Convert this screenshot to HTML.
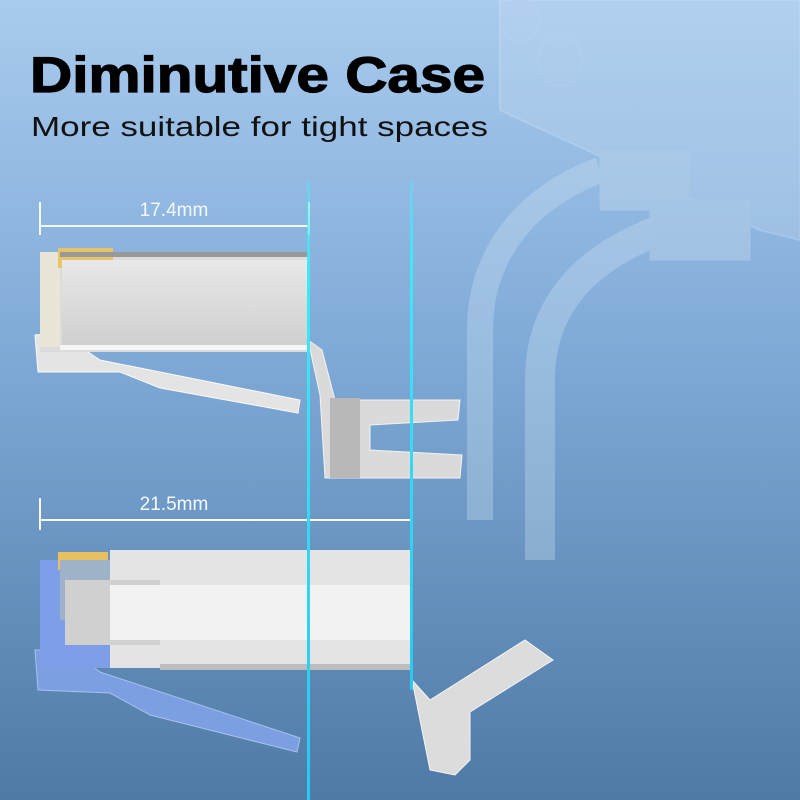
<!DOCTYPE html>
<html><head><style>
body{margin:0}
svg{display:block}
</style></head><body>
<svg width="800" height="800" viewBox="0 0 800 800" xmlns="http://www.w3.org/2000/svg">
<defs>
<linearGradient id="bg" x1="0" y1="0" x2="0" y2="1">
<stop offset="0" stop-color="#a9cbee"/>
<stop offset="0.45" stop-color="#7ea9d6"/>
<stop offset="1" stop-color="#4f7aa6"/>
</linearGradient>
<linearGradient id="cy" x1="0" y1="0" x2="0" y2="1">
<stop offset="0" stop-color="#3ff0ff" stop-opacity="0.3"/>
<stop offset="0.15" stop-color="#40e8f8"/>
<stop offset="1" stop-color="#28c8f0"/>
</linearGradient>
<linearGradient id="met" x1="0" y1="0" x2="0" y2="1">
<stop offset="0" stop-color="#e8e8e8"/>
<stop offset="1" stop-color="#cfcfcf"/>
</linearGradient>
</defs>
<rect width="800" height="800" fill="url(#bg)"/>
<g opacity="0.3" fill="none" stroke="#d8e8f8">
<path d="M500 0 L800 0 L800 240 L760 230 L500 110 Z" fill="#c6dcf2" stroke="#e0eefa" stroke-width="2"/>
<path d="M600 170 C520 200 480 260 480 330 L480 520" stroke-width="26"/>
<path d="M660 230 C580 260 540 310 540 380 L540 560" stroke-width="30"/>
<ellipse cx="560" cy="60" rx="22" ry="26" fill="#c9dcf0"/>
<ellipse cx="520" cy="20" rx="20" ry="22" fill="#c9dcf0"/>
<rect x="600" y="150" width="90" height="60" fill="#d8e6f4"/>
<rect x="650" y="200" width="100" height="60" fill="#d8e6f4"/>
</g>
<text x="30" y="92" font-family="Liberation Sans, sans-serif" font-weight="bold" font-size="50" fill="#000" textLength="455" lengthAdjust="spacingAndGlyphs" stroke="#000" stroke-width="1.2">Diminutive Case</text>
<text x="31" y="136" font-family="Liberation Sans, sans-serif" font-size="28" fill="#111" textLength="457" lengthAdjust="spacingAndGlyphs">More suitable for tight spaces</text>
<g stroke="#f4f8ff" stroke-width="2" fill="none">
<path d="M40 202 V235 M40 226 H308 M309 202 V235"/>
<path d="M40 498 V530 M40 520 H411 M411 498 V530"/>
</g>
<text x="174" y="216" text-anchor="middle" font-family="Liberation Sans, sans-serif" font-size="19" fill="#f4f8ff">17.4mm</text>
<text x="174" y="510" text-anchor="middle" font-family="Liberation Sans, sans-serif" font-size="19" fill="#f4f8ff">21.5mm</text>
<path d="M35 335 L60 333 L100 360 L300 400 L298 413 L160 388 L120 372 L38 372 Z" fill="#e4e4e4" stroke="#fafafa"/>
<rect x="40" y="252" width="268" height="100" fill="#dcdcdc"/>
<rect x="40" y="252" width="20" height="95" fill="#e9e6d8"/>
<rect x="58" y="248" width="55" height="20" fill="#e7c46a"/>
<rect x="62" y="260" width="246" height="87" fill="url(#met)"/>
<rect x="60" y="252" width="248" height="5" fill="#999"/>
<rect x="60" y="345" width="248" height="5" fill="#f5f5f5"/>
<path d="M308 340 L322 350 L335 400 L460 400 L458 420 L370 425 L370 450 L462 455 L460 478 L325 478 L320 395 Z" fill="#dadada" stroke="#f2f2f2"/>
<rect x="330" y="398" width="30" height="80" fill="#b8b8b8"/>
<path d="M35 650 L70 650 L100 672 L300 738 L297 752 L150 715 L110 693 L38 690 Z" fill="#7b9fe0" stroke="#a8c0f0"/>
<rect x="40" y="560" width="120" height="108" fill="#7e9ee8"/>
<rect x="58" y="552" width="50" height="18" fill="#e8c060"/>
<rect x="60" y="560" width="50" height="60" fill="#9fb3c8"/>
<rect x="110" y="550" width="300" height="118" fill="#e4e4e4"/>
<rect x="65" y="580" width="95" height="65" fill="#d0d0d0"/>
<rect x="110" y="585" width="300" height="55" fill="#f2f2f2"/>
<rect x="160" y="664" width="250" height="6" fill="#bdbdbd"/>
<path d="M412 680 L430 700 L525 640 L553 660 L470 712 L470 760 L455 775 L430 770 Z" fill="#dcdcdc" stroke="#f5f5f5"/>
<rect x="307" y="180" width="3" height="620" fill="url(#cy)"/>
<rect x="410" y="180" width="3" height="510" fill="url(#cy)"/>
</svg>
</body></html>
